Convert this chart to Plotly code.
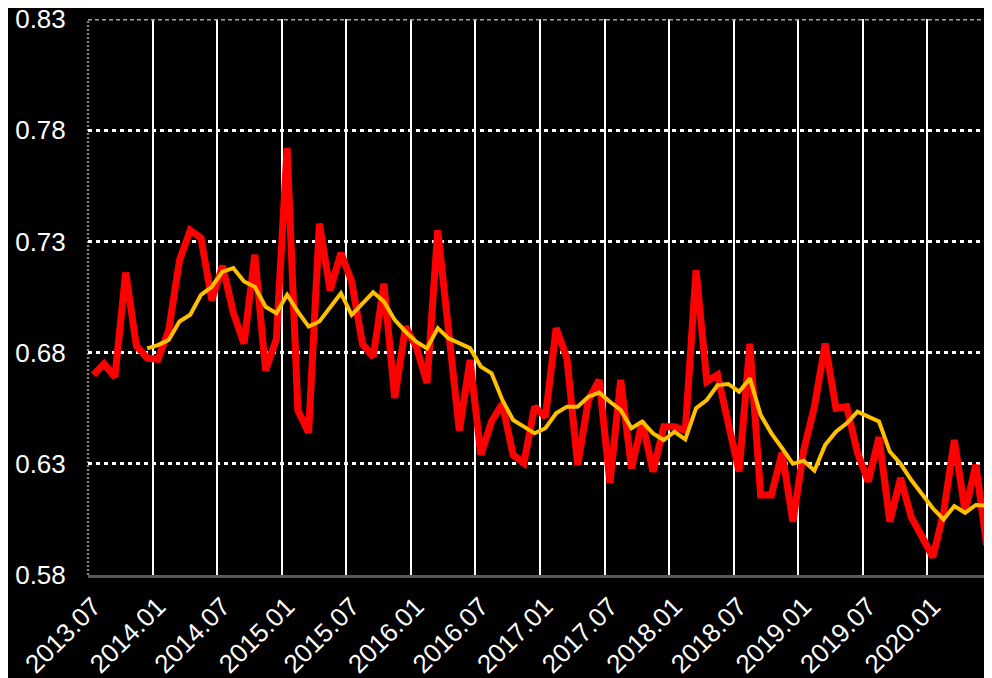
import plotly.graph_objects as go

# Monthly categories 2013.07 .. 2020.06
months = []
for yr in range(2013, 2021):
    for mo in range(1, 13):
        if (yr == 2013 and mo < 7) or (yr == 2020 and mo > 6):
            continue
        months.append(f"{yr}.{mo:02d}")

red_values = [
    0.670, 0.675, 0.669, 0.716, 0.683, 0.6775, 0.677, 0.690, 0.7215, 0.735,
    0.7315, 0.7036, 0.719, 0.698, 0.684, 0.724, 0.672, 0.686, 0.772, 0.654,
    0.644, 0.738, 0.708, 0.7248, 0.712, 0.684, 0.678, 0.711, 0.6596, 0.6917,
    0.6827, 0.6663, 0.735, 0.690, 0.645, 0.6767, 0.634, 0.649, 0.657, 0.634,
    0.6303, 0.6557, 0.651, 0.691, 0.6776, 0.6295, 0.6587, 0.6677, 0.6214, 0.6677,
    0.628, 0.649, 0.6265, 0.6467, 0.6467, 0.645, 0.717, 0.667, 0.670, 0.648,
    0.6265, 0.684, 0.616, 0.616, 0.635, 0.604, 0.636, 0.6557, 0.684, 0.655,
    0.6557, 0.635, 0.622, 0.642, 0.604, 0.6236, 0.606, 0.5972, 0.588, 0.608,
    0.6407, 0.6085, 0.6295, 0.5935,
]

yellow_values = [
    None, None, None, None, None, 0.6819, 0.6834, 0.6857, 0.694, 0.697,
    0.706, 0.7096, 0.7164, 0.718, 0.712, 0.7096, 0.7006, 0.6977, 0.706, 0.6984,
    0.6917, 0.694, 0.700, 0.7067, 0.697, 0.702, 0.7071, 0.703, 0.6947, 0.6894,
    0.6849, 0.6819, 0.691, 0.6864, 0.6842, 0.682, 0.6737, 0.6707, 0.6587, 0.6497,
    0.6467, 0.6437, 0.646, 0.6527, 0.6557, 0.6557, 0.6602, 0.662, 0.6579, 0.6542,
    0.646, 0.649, 0.6437, 0.6407, 0.6444, 0.641, 0.655, 0.6587, 0.6654, 0.6659,
    0.6624, 0.6684, 0.652, 0.6437, 0.637, 0.630, 0.6314, 0.6269, 0.6385, 0.6444,
    0.6482, 0.6534, 0.6512, 0.649, 0.6355, 0.630, 0.6227, 0.616, 0.610, 0.605,
    0.611, 0.608, 0.6115, 0.6112,
]

y_ticks = [0.58, 0.63, 0.68, 0.73, 0.78, 0.83]

x = list(range(len(months)))
tick_idx = list(range(0, len(months), 6))
tick_labels = [months[i] for i in tick_idx]
boundaries = [i - 0.5 for i in tick_idx[1:]]

fig = go.Figure()
fig.add_trace(go.Scatter(x=x, y=red_values, mode="lines",
                         line=dict(color="#FF0000", width=7),
                         showlegend=False))
fig.add_trace(go.Scatter(x=x, y=yellow_values, mode="lines",
                         line=dict(color="#FFC000", width=4),
                         showlegend=False, connectgaps=False))

font = "Liberation Sans, Arial, sans-serif"

# page body has an 8px default margin; size the figure so it fits the window
fig.update_layout(
    width=984, height=670,
    margin=dict(l=80, r=0, t=11, b=103, autoexpand=False),
    paper_bgcolor="black", plot_bgcolor="black",
    font=dict(family=font, color="white", size=26),
    xaxis=dict(
        range=[-0.5, len(months) - 0.5], automargin=False,
        tickmode="array", tickvals=tick_idx, ticktext=tick_labels,
        tickangle=-45, showgrid=False, zeroline=False,
        ticks="outside", ticklen=3, tickcolor="rgba(0,0,0,0)",
        showline=True, linecolor="#595959", linewidth=3,
        ticklabeloverflow="allow",
        tickfont=dict(size=26, color="white", family=font),
        minor=dict(tickmode="array", tickvals=boundaries, showgrid=True,
                   gridcolor="white", gridwidth=2, ticks=""),
    ),
    yaxis=dict(
        range=[0.58, 0.83], automargin=False,
        tickmode="array", tickvals=y_ticks,
        tickformat=".2f", showgrid=True, gridcolor="white", gridwidth=3,
        griddash="4px,4px", zeroline=False,
        ticks="outside", ticklen=16, tickcolor="rgba(0,0,0,0)",
        showline=False, ticklabeloverflow="allow",
        tickfont=dict(size=26, color="white", family=font),
    ),
    shapes=[
        dict(type="line", xref="paper", yref="y", x0=0, x1=1, y0=0.83, y1=0.83,
             line=dict(color="#A6A6A6", width=3, dash="4px,3px"), layer="above"),
        dict(type="line", xref="paper", yref="paper", x0=0, x1=0, y0=0, y1=1,
             line=dict(color="#808080", width=2.5, dash="2px,2px"), layer="below"),
    ],
)

fig.write_html("out.html")
